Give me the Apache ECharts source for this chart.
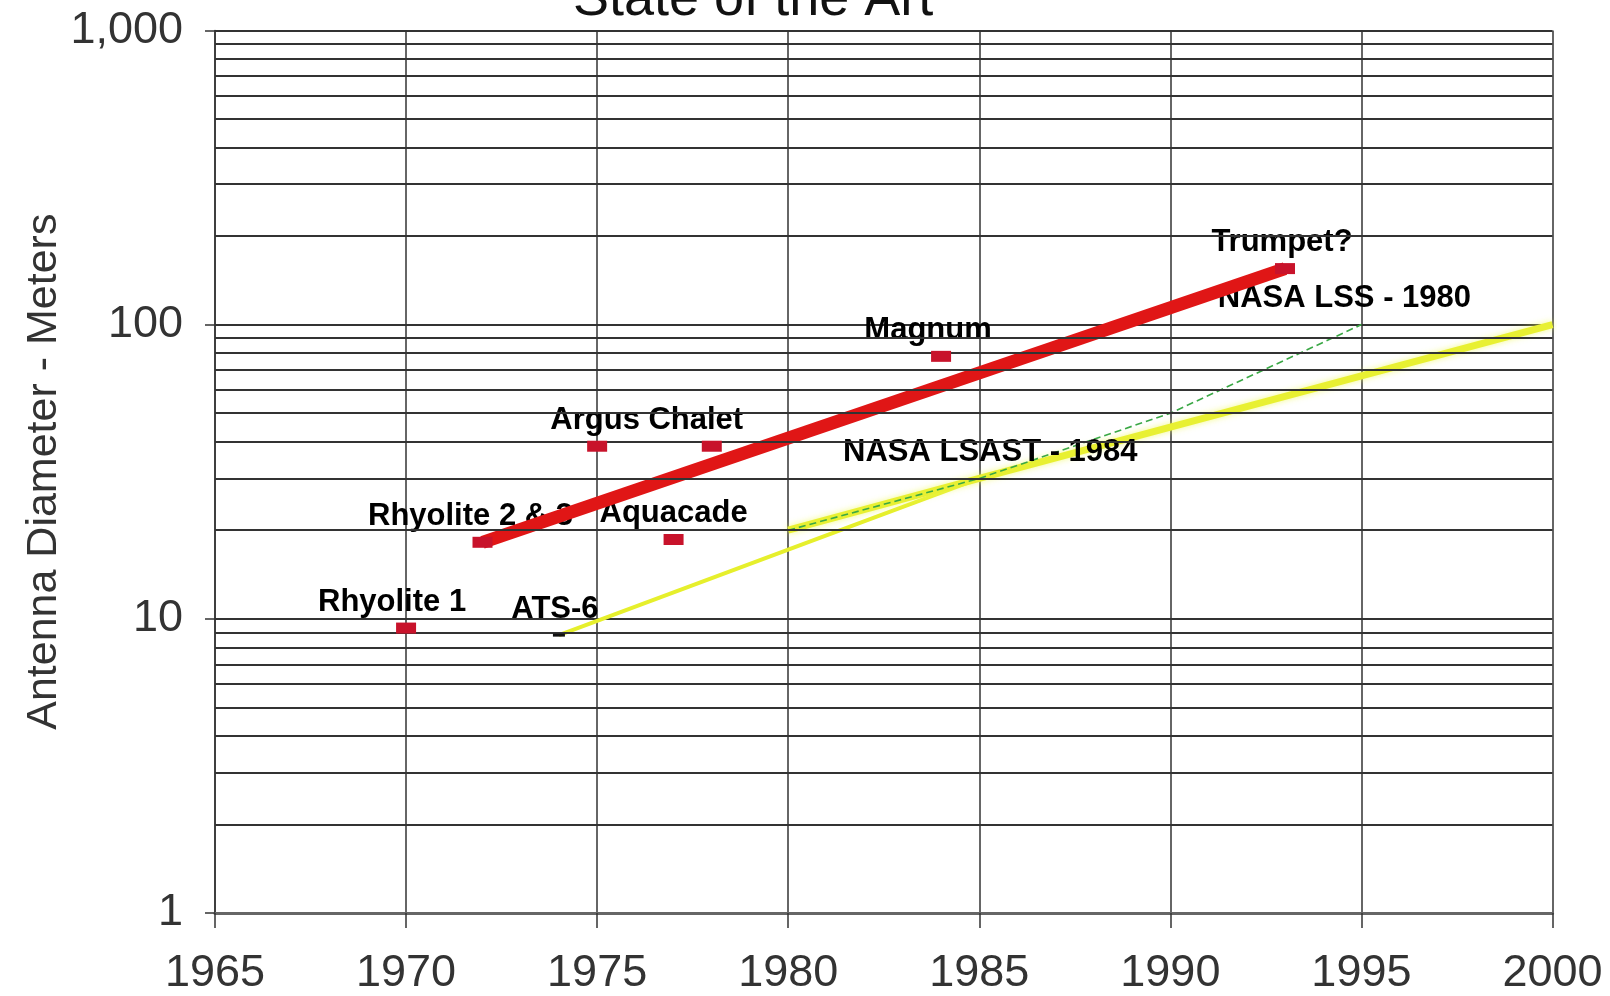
<!DOCTYPE html>
<html><head><meta charset="utf-8">
<script src="https://cdn.jsdelivr.net/npm/echarts@6/dist/echarts.min.js"></script>
<style>html,body{margin:0;padding:0;background:#fff}#c{width:1610px;height:996px}</style>
</head><body><div id="c"></div>
<script>
// ---------- data ----------
const titleText = 'State of the Art';
const yAxisName = 'Antenna Diameter - Meters';
const xTickYears = [1965, 1970, 1975, 1980, 1985, 1990, 1995, 2000];
const yTickValues = [1, 10, 100, 1000];
const yTickLabels = ['1', '10', '100', '1,000'];
const minorGridValues = [2,3,4,5,6,7,8,9,20,30,40,50,60,70,80,90,200,300,400,500,600,700,800,900];

// programs (red squares)
const programNames = ['Rhyolite 1', 'Rhyolite 2 & 3', 'Argus', 'Chalet', 'Aquacade', 'Magnum', 'Trumpet?'];
const programYears = [1970, 1972, 1975, 1978, 1977, 1984, 1993];
const programDiameters = [9.3, 18.2, 38.6, 38.6, 18.6, 78, 155];

// red trend line
const trendYears = [1972, 1993];
const trendDiameters = [18.2, 155];

// ATS-6 and its trend
const atsYears = [1974];
const atsDiameters = [8.8];
const atsTrendYears = [1974, 1985];
const atsTrendDiameters = [8.8, 30];

// NASA LSAST - 1984 projection
const lsastYears = [1980, 1985, 2000];
const lsastDiameters = [20, 30, 100];

// NASA LSS - 1980 projection
const lssYears = [1980, 1985, 1990, 1995];
const lssDiameters = [20, 30, 50, 100];

// annotation labels on the lines
const annoNames = ['ATS-6', 'NASA LSAST - 1984', 'NASA LSS - 1980'];
const annoYears = [1974, 1985, 1995];
const annoDiameters = [8.8, 30, 100];

// ---------- build ----------
const FONT = "'Liberation Sans', Arial, Helvetica, sans-serif";
const zip = (xs, ys) => xs.map((x, i) => [x, ys[i]]);
const labelShift = {
  'Rhyolite 1': -14, 'Rhyolite 2 & 3': -12, 'Argus': -2, 'Chalet': -16,
  'Aquacade': 0, 'Magnum': -13, 'Trumpet?': -3,
  'ATS-6': -4, 'NASA LSAST - 1984': 11, 'NASA LSS - 1980': -17
};
const labelNames = programNames.concat(annoNames);
const labelYears = programYears.concat(annoYears);
const labelVals = programDiameters.concat(annoDiameters);
const labelData = labelNames.map((n, i) => ({
  name: n, value: [labelYears[i], labelVals[i]],
  label: { offset: [labelShift[n] || 0, 0] }
}));

const chart = echarts.init(document.getElementById('c'), null, { renderer: 'canvas' });
chart.setOption({
  animation: false,
  backgroundColor: '#ffffff',
  title: {
    text: titleText, left: 568, top: -32,
    textStyle: { fontFamily: FONT, fontSize: 54, fontWeight: 'normal', color: '#111' }
  },
  grid: { left: 215, right: 57.5, top: 30.4, bottom: 81.8, containLabel: false },
  xAxis: {
    type: 'value', min: xTickYears[0], max: xTickYears[xTickYears.length - 1], interval: 5,
    axisLine: { onZero: false, lineStyle: { color: '#666', width: 3 } },
    axisTick: { show: true, length: 15, lineStyle: { color: '#333', width: 1.5 } },
    axisLabel: { margin: 38, fontFamily: FONT, fontSize: 45, color: '#333',
      formatter: v => String(Math.round(v)) },
    splitLine: { show: true, lineStyle: { color: '#333', width: 1.5 } }
  },
  yAxis: {
    type: 'log', logBase: 10, min: yTickValues[0], max: yTickValues[yTickValues.length - 1],
    name: yAxisName, nameLocation: 'middle', nameGap: 149, nameMoveOverlap: false,
    nameTextStyle: { fontFamily: FONT, fontSize: 43, color: '#333' },
    axisLine: { onZero: false, lineStyle: { color: '#333', width: 1.5 } },
    axisTick: { show: true, length: 10, lineStyle: { color: '#333', width: 1.5 } },
    axisLabel: { margin: 32, fontFamily: FONT, fontSize: 45, color: '#333',
      formatter: v => { const i = yTickValues.findIndex(t => Math.abs(t - v) / t < 1e-6); return i >= 0 ? yTickLabels[i] : ''; } },
    splitLine: { show: true, lineStyle: { color: '#333', width: 2 } }
  },
  series: [
    { type: 'line', data: [], z: 1, silent: true,
      markLine: { silent: true, symbol: ['none', 'none'], label: { show: false },
        lineStyle: { color: '#333', width: 2, type: 'solid' },
        data: minorGridValues.map(v => ({ yAxis: v })) } },
    { type: 'line', data: zip(atsTrendYears, atsTrendDiameters), z: 2, symbol: 'none',
      lineStyle: { color: '#e6ef2c', width: 4 } },
    { type: 'line', data: zip(lsastYears, lsastDiameters), z: 2, symbol: 'none',
      lineStyle: { color: '#e8f032', width: 7, shadowColor: 'rgba(240,250,90,0.7)', shadowBlur: 6 } },
    { type: 'line', data: zip(lssYears, lssDiameters), z: 2, symbol: 'none',
      lineStyle: { color: '#3aa845', width: 1.6, type: [7, 4] } },
    { type: 'scatter', data: labelData, z: 3, symbol: 'rect', symbolSize: [20, 11],
      itemStyle: { color: 'rgba(0,0,0,0)', opacity: 1 }, silent: true,
      label: { show: true, position: 'top', distance: 5, formatter: p => p.name,
        fontFamily: FONT, fontSize: 31, fontWeight: 'bold', color: '#000', opacity: 1 } },
    { type: 'line', data: zip(trendYears, trendDiameters), z: 4, symbol: 'none',
      lineStyle: { color: '#e01616', width: 13 } },
    { type: 'scatter', data: zip(programYears, programDiameters), z: 6, symbol: 'rect',
      symbolSize: [20, 11], itemStyle: { color: '#c8132b', opacity: 1 } },
    { type: 'scatter', data: zip(atsYears, atsDiameters), z: 6, symbol: 'rect',
      symbolSize: [12, 3], itemStyle: { color: '#111', opacity: 1 } }
  ]
});
</script></body></html>
